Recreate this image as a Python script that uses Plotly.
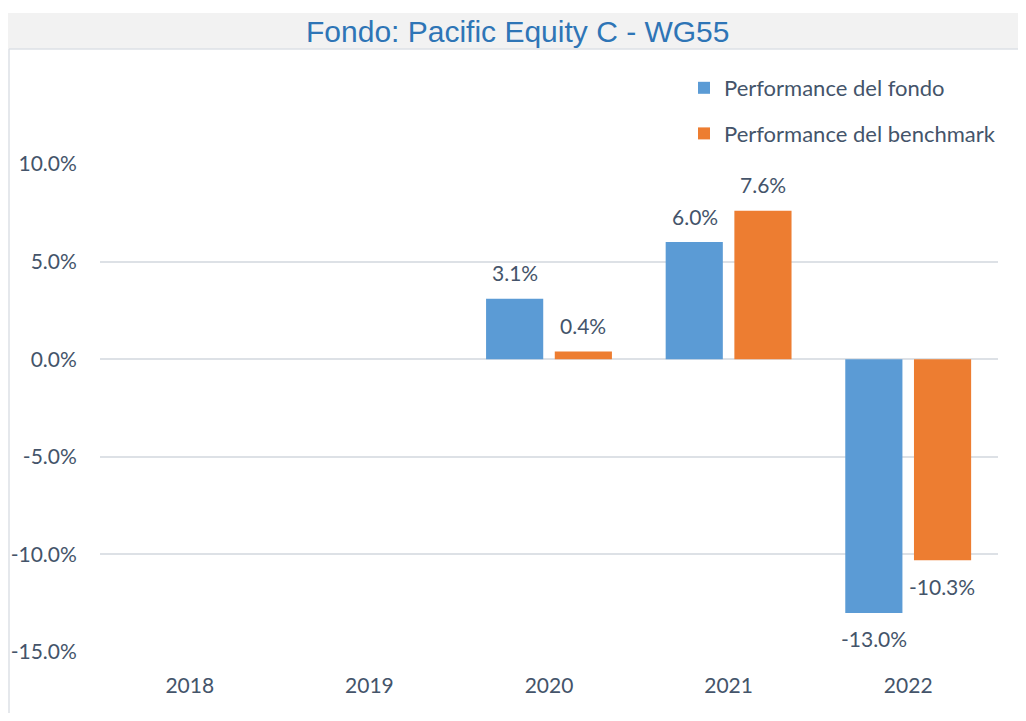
import plotly.graph_objects as go

years = ["2018", "2019", "2020", "2021", "2022"]
fondo = [None, None, 3.1, 6.0, -13.0]
benchmark = [None, None, 0.4, 7.6, -10.3]
series_names = ["Performance del fondo", "Performance del benchmark"]
y_ticks = [-15, -10, -5, 0, 5, 10]
title_text = "Fondo: Pacific Equity C - WG55"

TEXT = "#44546A"
FONT = "Lato"
OFF = 8  # page body margin
W, H = 1026 - 2 * OFF, 721 - 2 * OFF
L, R, T, B = 100 - OFF, 1026 - 998 - OFF, 164 - OFF, 721 - 652 - OFF
pw, ph = W - L - R, H - T - B

def px(x):
    return (x - OFF - L) / pw

def py(y):
    return (H - B - (y - OFF)) / ph

fig = go.Figure()
fig.add_trace(go.Bar(x=years, y=fondo, name=series_names[0], legendgroup="a",
                     marker=dict(color="#5B9BD5", line=dict(width=0))))
fig.add_trace(go.Bar(x=years, y=benchmark, name=series_names[1], legendgroup="b",
                     marker=dict(color="#ED7D31", line=dict(width=0))))

annotations = []
for vals, xs in ((fondo, -34), (benchmark, 34)):
    for i, v in enumerate(vals):
        if v is None:
            continue
        annotations.append(dict(x=i, y=v, xref="x", yref="y", text=f"{v:.1f}%",
                                showarrow=False, xshift=xs, yshift=26 if v >= 0 else -26,
                                yanchor="middle", font=dict(size=21, color=TEXT, family=FONT)))

annotations.append(dict(x=px(518), y=py(31), xref="paper", yref="paper", text=title_text,
                        showarrow=False, xanchor="center", yanchor="middle",
                        font=dict(size=30, color="#2E75B6", family="Liberation Sans, Arial")))

shapes = [
    dict(type="rect", xref="paper", yref="paper", x0=px(8), x1=px(1040), y0=py(49), y1=py(13),
         fillcolor="#F2F2F2", line=dict(width=0), layer="below"),
    dict(type="line", xref="paper", yref="paper", x0=px(9), x1=px(1040), y0=py(49), y1=py(49),
         line=dict(color="#DDE1E6", width=1.5)),
    dict(type="line", xref="paper", yref="paper", x0=px(9), x1=px(9), y0=py(49), y1=py(740),
         line=dict(color="#DDE1E6", width=1.5)),
]

fig.update_layout(
    width=W, height=H,
    margin=dict(l=L, r=R, t=T, b=B, autoexpand=False),
    paper_bgcolor="white", plot_bgcolor="white",
    barmode="group", bargap=0.235, bargroupgap=0.168,
    font=dict(family=FONT, color=TEXT, size=21),
    showlegend=True,
    legend=dict(x=px(684), y=py(67), xanchor="left", yanchor="top",
                font=dict(size=22, color=TEXT, family=FONT),
                traceorder="grouped", tracegroupgap=14,
                bgcolor="rgba(0,0,0,0)"),
    annotations=annotations,
    shapes=shapes,
    xaxis=dict(type="category", categoryorder="array", categoryarray=years,
               range=[-0.5, len(years) - 0.5],
               showgrid=False, showline=False, zeroline=False,
               ticks="outside", ticklen=15, tickcolor="rgba(0,0,0,0)",
               tickfont=dict(size=21, color=TEXT)),
    yaxis=dict(range=[-15, 10], tickvals=y_ticks,
               ticktext=[f"{v:.1f}%" for v in y_ticks],
               showgrid=True, gridcolor="#DDE1E6", gridwidth=1.5,
               zeroline=False, showline=False,
               ticks="outside", ticklen=18, tickcolor="rgba(0,0,0,0)",
               tickfont=dict(size=21, color=TEXT)),
)

fig.write_html("out.html")
